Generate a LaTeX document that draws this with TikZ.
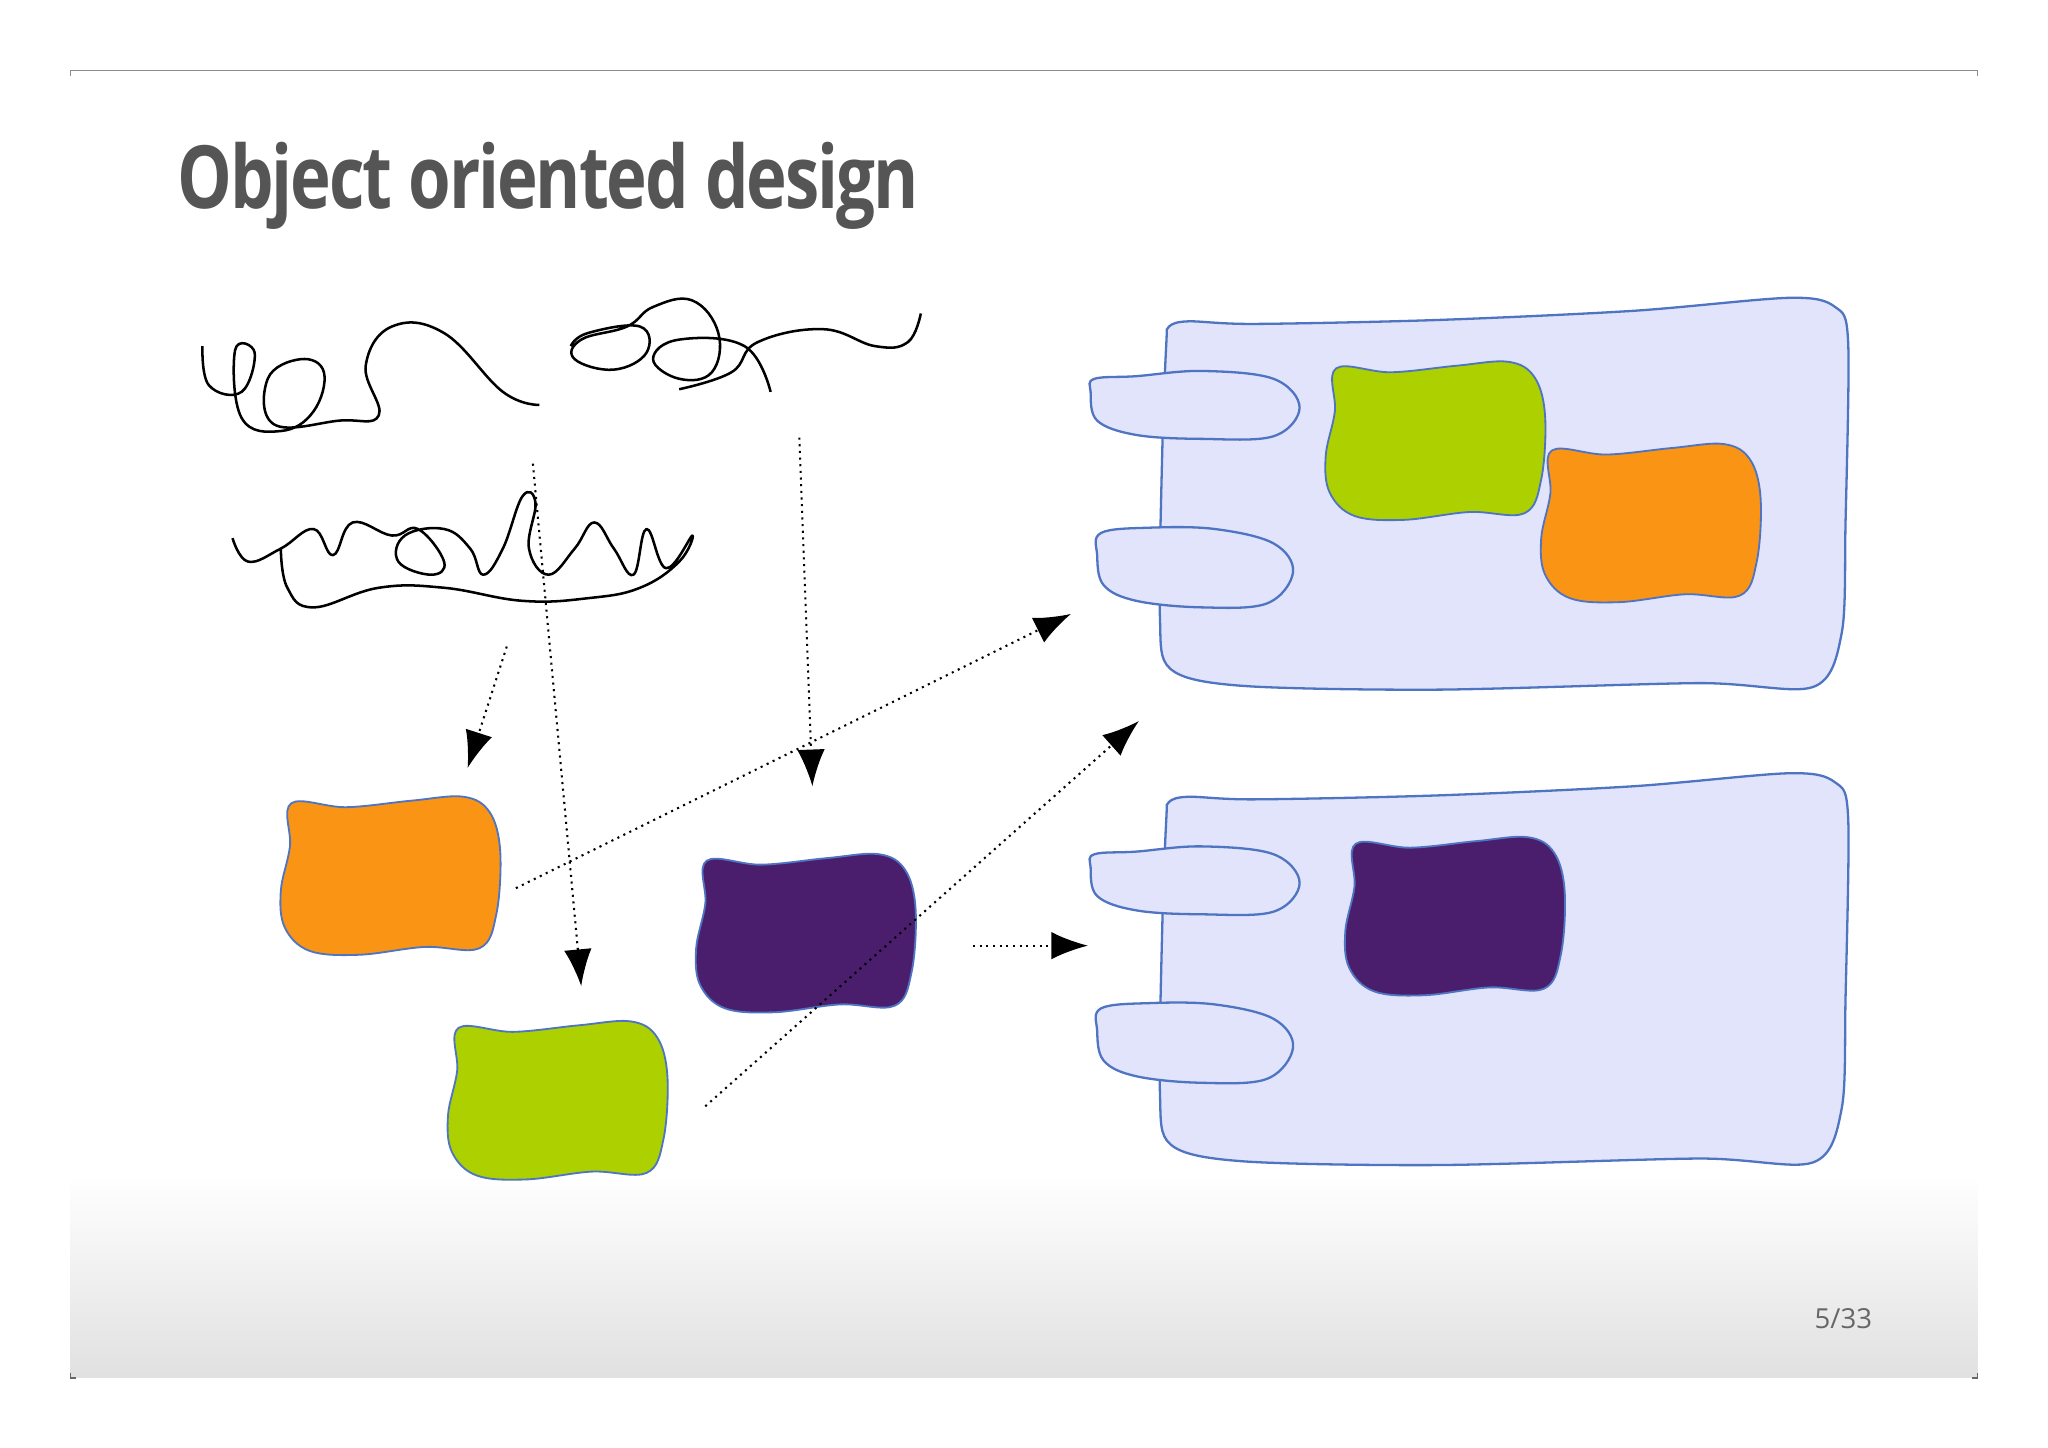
\documentclass[tikz,border=0pt]{standalone}
\usepackage{fontspec}
\setmainfont{Open Sans}
\usetikzlibrary{arrows.meta}
\definecolor{cfill}{HTML}{E1E4FB}
\definecolor{cline}{HTML}{4F74C2}
\definecolor{corange}{HTML}{FA9414}
\definecolor{cgreen}{HTML}{ACD000}
\definecolor{cpurple}{HTML}{4A1E6C}
\definecolor{ctitle}{HTML}{555555}
\tikzset{
  squig/.style={black,line width=0.55pt,line join=round},
  dotarrow/.style={densely dotted,line width=0.45pt,-{Latex[length=8pt,width=6pt]}},
  cont/.style={fill=cfill,draw=cline,line width=0.5pt},
}
\newcommand{\myblob}[3]{%
  \fill[#3,draw=cline,line width=0.4pt,shift={(#1,#2)}]
    plot[smooth cycle,tension=0.6] coordinates{(8,5)(50,8)(100,3)(140,0)(160,12)(168,42)(165,90)(152,116)(110,115)(60,121)(22,118)(3,100)(0,72)(7,38)};}
\newcommand{\mycont}[1]{%
  \begin{scope}[shift={(0,#1)}]
  \path[cont] plot[smooth cycle,tension=0.5] coordinates{(895,250)(910,246)(960,248)(1100,245)(1250,238)(1370,228)(1405,235)(1415,262)(1413,400)(1410,485)(1388,526)(1300,523)(1100,528)(950,525)(896,512)(888,470)(890,340)(893,262)};
  \path[cont] plot[smooth cycle,tension=0.6] coordinates{(838,290)(870,288)(920,284)(975,290)(995,312)(975,334)(920,336)(870,333)(840,322)(835,300)};
  \path[cont] plot[smooth cycle,tension=0.6] coordinates{(843,408)(880,404)(930,405)(975,416)(990,438)(970,462)(920,465)(870,460)(845,448)(840,425)};
  \end{scope}}
\begin{document}
\begin{tikzpicture}[x=0.01cm,y=-0.01cm]
\useasboundingbox (0,0) rectangle (1568,1108);
\shade[top color=white,bottom color=black!12] (54,900) rectangle (1514,1055);
\draw[black!45,line width=0.4pt] (54,58) -- (54,54) -- (1514,54) -- (1514,58);
\draw[black!60,line width=0.4pt] (54,1051) -- (54,1055) -- (58,1055) (1510,1055) -- (1514,1055) -- (1514,1051);
\node[anchor=base west,inner sep=0,text=ctitle] (title) at (135,160) {\scalebox{0.79}[1]{\fontsize{19}{22}\selectfont\bfseries\addfontfeature{LetterSpace=-3}Object oriented design}};
\node[anchor=base east,inner sep=0,text=black!60,font=\fontsize{6}{7}\selectfont] (pg) at (1434,1017) {5/33};
% squiggles
\draw[squig] plot[smooth,tension=0.7] coordinates{(155,265)(160,295)(185,300)(195,270)(180,268)(185,320)(215,330)(240,315)(248,285)(230,275)(205,290)(210,325)(260,322)(290,318)(280,280)(300,250)(340,255)(385,300)(413,310)};
\draw[squig] plot[smooth,tension=0.7] coordinates{(437,265)(450,255)(490,250)(495,270)(470,283)(440,275)(445,260)(480,250)(500,235)(530,230)(550,255)(545,285)(520,290)(500,275)(520,260)(570,265)(590,300)};
\draw[squig] plot[smooth,tension=0.7] coordinates{(520,298)(560,285)(580,262)(630,252)(670,265)(695,262)(705,240)};
\draw[squig] plot[smooth,tension=0.7] coordinates{(178,412)(190,430)(215,420)(240,405)(255,425)(270,400)(300,410)(320,405)(340,430)(330,440)(305,430)(310,410)(340,405)(360,420)(370,440)(385,420)(400,380)(410,385)(405,420)(420,440)(440,420)(455,400)(470,420)(485,440)(495,405)(510,435)(530,410)(520,430)(490,450)(450,458)(400,460)(340,450)(290,450)(240,465)(220,450)(215,420)};
% containers
\mycont{0}
\mycont{364}
% blobs
\myblob{215}{610}{corange}
\myblob{343}{782}{cgreen}
\myblob{533}{654}{cpurple}
\myblob{1015}{277}{cgreen}
\myblob{1180}{340}{corange}
\myblob{1030}{641}{cpurple}
% arrows
\coordinate (a1) at (388,495); \coordinate (b1) at (358,588);
\coordinate (a2) at (408,355); \coordinate (b2) at (445,755);
\coordinate (a3) at (612,335); \coordinate (b3) at (622,602);
\coordinate (a4) at (395,680); \coordinate (b4) at (820,470);
\coordinate (a5) at (540,847); \coordinate (b5) at (872,552);
\coordinate (a6) at (745,724); \coordinate (b6) at (833,724);
\foreach \i in {1,...,6} \draw[dotarrow] (a\i) -- (b\i);
\end{tikzpicture}
\end{document}
